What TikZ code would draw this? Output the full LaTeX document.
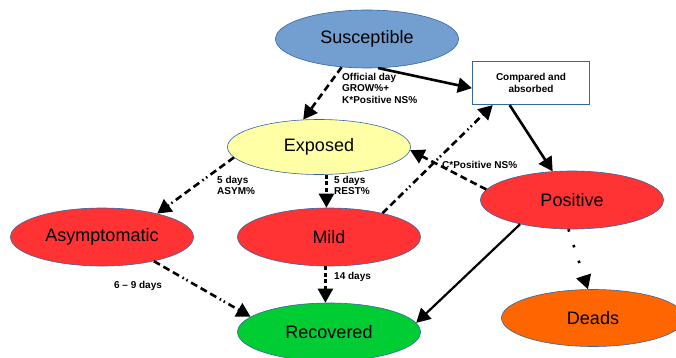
\documentclass[tikz,border=0pt]{standalone}
\usepackage{fontspec}
\setmainfont{Liberation Sans}
\usetikzlibrary{shapes.geometric,arrows.meta,calc}
\usepackage{xcolor}

\definecolor{susblue}{HTML}{729FCF}
\definecolor{expyellow}{HTML}{FFFFA6}
\definecolor{posred}{HTML}{FF3333}
\definecolor{recgreen}{HTML}{00CC33}
\definecolor{deadorange}{HTML}{FF6600}
\definecolor{edgeblue}{HTML}{3465A4}

\begin{document}
\begin{tikzpicture}[x=1pt, y=-1pt, >={Triangle[length=14pt, width=15pt]},
    state/.style={ellipse, draw=edgeblue, line width=0.6pt, minimum width=183pt, minimum height=58pt, inner sep=0pt, font=\fontsize{18}{21}\selectfont},
    lbl/.style={font=\bfseries\fontsize{10}{11.5}\selectfont, align=left, inner sep=0pt},
    arr/.style={->, line width=2.6pt},
    dasharr/.style={arr, dash pattern=on 7pt off 4pt},
    dashdotarr/.style={arr, dash pattern=on 7pt off 4pt on 7pt off 4pt on 7pt off 4pt on 1.5pt off 3pt on 1.5pt off 4pt},
    shortarr/.style={arr, dash pattern=on 4pt off 2.5pt},
    dotarr/.style={arr, dash pattern=on 2.5pt off 14pt}]
    \useasboundingbox (0,0) rectangle (676,358);

    % States
    \node[state, fill=susblue] (sus) at (367,39) {Susceptible};
    \node[draw=edgeblue, line width=1.2pt, fill=white, minimum width=117pt, minimum height=43pt, align=center, font=\bfseries\fontsize{10}{11.5}\selectfont] (cmp) at (531,83) {Compared and\\absorbed};
    \node[state, fill=expyellow, minimum height=55pt] (exp) at (319,147) {Exposed};
    \node[state, fill=posred] (pos) at (572,200) {Positive};
    \node[state, fill=posred] (asy) at (102,237) {Asymptomatic};
    \node[state, fill=posred] (mild) at (329,237) {Mild};
    \node[state, fill=recgreen] (rec) at (329,332) {Recovered};
    \node[state, fill=deadorange, minimum height=57pt] (dead) at (593,318) {Deads};

    % Transitions
    \draw[dasharr] (sus.228) -- (exp.120);
    \draw[arr] (sus.291) -- (cmp.185);
    \draw[dashdotarr] (mild.24) -- (cmp.210);
    \draw[arr] (cmp.226) -- (pos.124);
    \draw[dasharr] (pos.173) -- (exp.358);
    \draw[dashdotarr] (exp.187) -- (asy.23);
    \draw[shortarr] (exp.285) -- (exp.285 |- mild.north);
    \draw[dashdotarr] (asy.335) -- (rec.169);
    \draw[shortarr] (mild.263) -- (mild.263 |- rec.north);
    \draw[arr, line width=2.2pt] (pos.205) -- (rec.6);
    \draw[dotarr] (pos.263) -- (dead.100);

    % Rates
    \node[lbl, anchor=north west] (lgrow) at (342,73) {Official day\\GROW\%+\\K*Positive NS\%};
    \node[lbl, anchor=west] (lcpos) at (442,165) {C*Positive NS\%};
    \node[lbl, anchor=north west] (lasym) at (217,176) {5 days\\ASYM\%};
    \node[lbl, anchor=north west] (lrest) at (334,176) {5 days\\REST\%};
    \node[lbl] (lasyrec) at (138,286) {6 -- 9 days};
    \node[lbl, anchor=west] (lmild) at (334,277) {14 days};
\end{tikzpicture}
\end{document}
